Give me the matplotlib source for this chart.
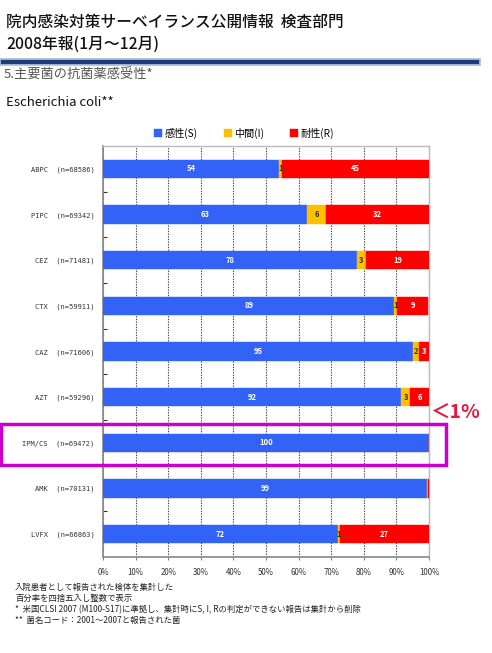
import matplotlib
matplotlib.use("Agg")
import matplotlib.pyplot as plt
from matplotlib.patches import Rectangle
from matplotlib.lines import Line2D

plt.rcParams['font.family'] = ['Noto Sans CJK JP', 'DejaVu Sans']

drugs = ["ABPC", "PIPC", "CEZ", "CTX", "CAZ", "AZT", "IPM/CS", "AMK", "LVFX"]
n_counts = [68586, 69342, 71481, 59911, 71606, 59296, 69472, 70131, 66863]
susceptible = [54.0, 62.6, 77.8, 89.4, 95.0, 91.5, 100.0, 99.4, 72.0]
intermediate = [0.9, 5.8, 3.0, 0.9, 2.0, 2.8, 0.0, 0.3, 0.8]
resistant = [45.1, 31.6, 19.2, 9.4, 3.0, 5.7, 0.0, 0.3, 27.2]
series_names = ["感性(S)", "中間(I)", "耐性(R)"]
series_colors = ["#3362F6", "#FFC000", "#FF0000"]
label_colors = ["white", "#333300", "white"]
x_ticks = [0, 10, 20, 30, 40, 50, 60, 70, 80, 90, 100]

fig = plt.figure(figsize=(4.92, 6.53), dpi=100)
W, H = 492, 653

def fx(px):
    return px / W

def fy(py):
    return 1 - py / H

# Header
fig.text(fx(6), fy(22), "院内感染対策サーベイランス公開情報  検査部門", fontsize=11.3,
         va='center', ha='left', color='#111111', fontweight='medium')
fig.text(fx(6), fy(44), "2008年報(1月～12月)", fontsize=11.3, va='center', ha='left',
         color='#111111', fontweight='medium')
fig.add_artist(Line2D([fx(3), fx(477)], [fy(62), fy(62)], color='#A9BBD8', lw=5.5,
                      transform=fig.transFigure))
fig.add_artist(Line2D([fx(3), fx(477)], [fy(62), fy(62)], color='#1C3D7A', lw=3,
                      transform=fig.transFigure))
fig.text(fx(4), fy(75), "5.主要菌の抗菌薬感受性*", fontsize=9.5, va='center', ha='left', color='#555555')
fig.text(fx(6), fy(102), "Escherichia coli**", fontsize=9.5, va='center', ha='left', color='#111111')

ax = fig.add_axes([fx(103), fy(557), fx(429) - fx(103), fy(146) - fy(557)])
ys = list(range(len(drugs)))
lefts = [0.0] * len(drugs)
bar_h = 0.4
for vals, name, col, lc in zip([susceptible, intermediate, resistant], series_names,
                               series_colors, label_colors):
    ax.barh(ys, vals, left=lefts, height=bar_h, color=col, label=name, zorder=3,
            edgecolor=col, linewidth=0.3)
    for y, v, l in zip(ys, vals, lefts):
        if v >= 0.5:
            ax.text(l + v / 2, y, f"{v:.0f}", ha='center', va='center', fontsize=5.5,
                    color=lc, fontweight='bold', zorder=4)
    lefts = [a + b for a, b in zip(lefts, vals)]

ax.set_xlim(0, 100)
ax.set_ylim(len(drugs) - 0.5, -0.5)
ax.set_yticks(ys)
ax.set_yticklabels([f"{d}  (n={n})" for d, n in zip(drugs, n_counts)], fontsize=5.1,
                   color='#333333', family=['DejaVu Sans Mono', 'DejaVu Sans'])
ax.set_yticks([y + 0.5 for y in ys[:-1]], minor=True)
ax.tick_params(axis='y', which='major', length=0, pad=6)
ax.tick_params(axis='y', which='minor', length=3, direction='in', width=0.8, color='#333333')
ax.set_xticks(x_ticks)
ax.set_xticklabels([f"{t}%" for t in x_ticks], fontsize=5.7, color='#333333')
ax.tick_params(axis='x', length=2, width=0.6, color='#666666', pad=6)
ax.xaxis.grid(True, linestyle=(0, (1.2, 1.2)), color='#444444', linewidth=0.8, zorder=0)
ax.set_axisbelow(True)
for s in ['left', 'bottom']:
    ax.spines[s].set_color('#888888')
    ax.spines[s].set_linewidth(1.2)
for s in ['top', 'right']:
    ax.spines[s].set_color('#BBBBBB')
    ax.spines[s].set_linewidth(1.0)

handles, labels = ax.get_legend_handles_labels()
fig.legend(handles, labels, loc='center', bbox_to_anchor=(fx(244), fy(133)), ncol=3,
           frameon=False, fontsize=7.3, handlelength=0.8, handleheight=0.8,
           handletextpad=0.2, columnspacing=2.6)

# Highlight box and annotation
fig.add_artist(Rectangle((fx(1), fy(465)), fx(446) - fx(1), fy(424) - fy(465),
                         fill=False, edgecolor='#CC00CC', linewidth=2.5,
                         transform=fig.transFigure))
fig.text(fx(430), fy(413), "＜1%", fontsize=14, color='#E8143C', fontweight='bold',
         va='center', ha='left')

# Footnotes
notes = ["入院患者として報告された検体を集計した",
         "百分率を四捨五入し整数で表示",
         "*  米国CLSI 2007 (M100-S17)に準拠し、集計時にS, I, Rの判定ができない報告は集計から削除",
         "**  菌名コード：2001～2007と報告された菌"]
for i, t in enumerate(notes):
    fig.text(fx(15), fy(587 + i * 11.2), t, fontsize=6.0, va='center', ha='left', color='#222222')

fig.savefig("out.png", dpi=100)
